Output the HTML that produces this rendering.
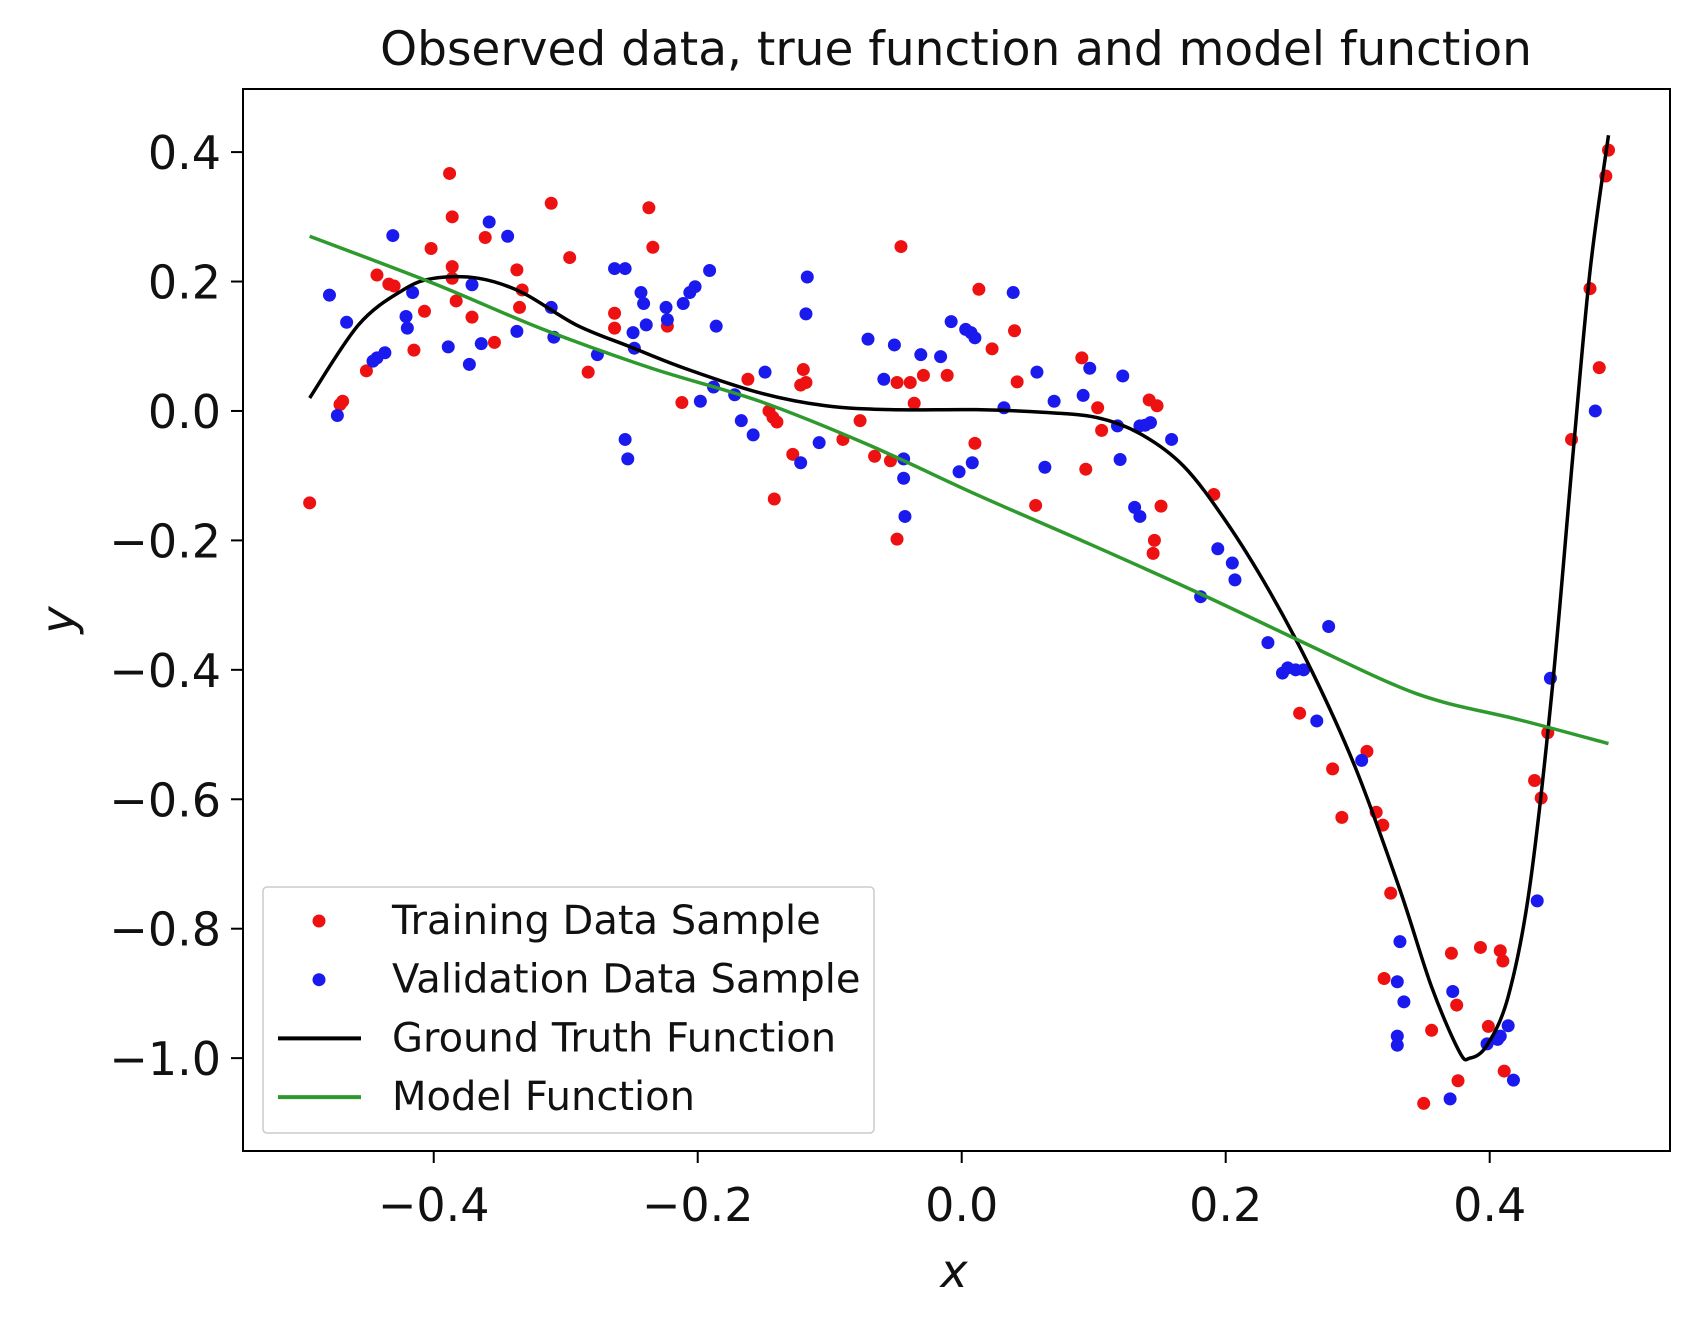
<!DOCTYPE html>
<html><head><meta charset="utf-8"><style>
body{margin:0;background:#fff;}
svg{display:block;font-family:"DejaVu Sans","Liberation Sans",sans-serif;}
</style></head><body>
<svg id="chart" width="1700" height="1328" viewBox="0 0 1700 1328">
<text x="956" y="65" text-anchor="middle" font-size="47" fill="#111">Observed data, true function and model function</text>
<g id="plot"></g>
<text x="954" y="1287" text-anchor="middle" font-size="46" font-style="italic" fill="#111">x</text>
<text transform="translate(74,620) rotate(-90)" text-anchor="middle" font-size="46" font-style="italic" fill="#111">y</text>
</svg>
<script>
const trainX=[-0.494,-0.469,-0.471,-0.451,-0.443,-0.434,-0.43,-0.415,-0.407,-0.402,-0.388,-0.386,-0.386,-0.386,-0.383,-0.371,-0.361,-0.354,-0.337,-0.335,-0.333,-0.311,-0.297,-0.283,-0.263,-0.263,-0.237,-0.234,-0.223,-0.212,-0.162,-0.146,-0.143,-0.14,-0.142,-0.128,-0.122,-0.12,-0.118,-0.09,-0.077,-0.066,-0.054,-0.049,-0.046,-0.049,-0.039,-0.036,-0.029,-0.011,0.01,0.013,0.023,0.04,0.042,0.056,0.091,0.094,0.103,0.106,0.142,0.148,0.151,0.146,0.145,0.191,0.256,0.281,0.288,0.307,0.314,0.319,0.325,0.32,0.35,0.356,0.371,0.375,0.376,0.393,0.399,0.408,0.41,0.411,0.434,0.439,0.444,0.462,0.476,0.483,0.488,0.49];
const trainY=[-0.142,0.015,0.01,0.062,0.21,0.196,0.193,0.094,0.154,0.251,0.367,0.3,0.223,0.205,0.17,0.145,0.268,0.106,0.218,0.16,0.187,0.321,0.237,0.06,0.151,0.128,0.314,0.253,0.131,0.013,0.049,0,-0.01,-0.017,-0.136,-0.067,0.04,0.064,0.044,-0.044,-0.015,-0.07,-0.077,-0.198,0.254,0.044,0.044,0.012,0.055,0.055,-0.05,0.188,0.096,0.124,0.045,-0.146,0.082,-0.09,0.005,-0.03,0.017,0.008,-0.147,-0.2,-0.22,-0.129,-0.467,-0.553,-0.628,-0.526,-0.62,-0.64,-0.745,-0.877,-1.07,-0.957,-0.838,-0.918,-1.035,-0.829,-0.951,-0.834,-0.85,-1.02,-0.571,-0.598,-0.497,-0.044,0.189,0.067,0.363,0.403];
const valX=[-0.479,-0.473,-0.466,-0.446,-0.443,-0.437,-0.431,-0.421,-0.42,-0.416,-0.389,-0.373,-0.371,-0.364,-0.358,-0.344,-0.337,-0.309,-0.311,-0.276,-0.263,-0.255,-0.255,-0.253,-0.249,-0.248,-0.243,-0.241,-0.239,-0.224,-0.223,-0.211,-0.206,-0.202,-0.191,-0.186,-0.198,-0.188,-0.172,-0.167,-0.158,-0.149,-0.122,-0.118,-0.117,-0.108,-0.071,-0.059,-0.051,-0.044,-0.044,-0.043,-0.031,-0.016,-0.008,-0.002,0.008,0.003,0.007,0.01,0.032,0.039,0.057,0.063,0.07,0.092,0.097,0.118,0.12,0.122,0.131,0.135,0.135,0.139,0.143,0.159,0.181,0.194,0.205,0.207,0.232,0.243,0.247,0.253,0.259,0.269,0.278,0.303,0.332,0.33,0.335,0.33,0.33,0.37,0.372,0.398,0.406,0.408,0.414,0.418,0.436,0.446,0.48];
const valY=[0.179,-0.007,0.137,0.077,0.082,0.09,0.271,0.146,0.128,0.183,0.099,0.072,0.195,0.104,0.292,0.27,0.123,0.114,0.16,0.087,0.22,0.22,-0.044,-0.074,0.121,0.097,0.183,0.166,0.133,0.16,0.141,0.166,0.183,0.192,0.217,0.131,0.015,0.037,0.025,-0.015,-0.037,0.06,-0.08,0.15,0.207,-0.049,0.111,0.049,0.102,-0.104,-0.074,-0.163,0.087,0.084,0.138,-0.094,-0.08,0.126,0.121,0.113,0.005,0.183,0.06,-0.087,0.015,0.024,0.066,-0.023,-0.075,0.054,-0.149,-0.163,-0.023,-0.022,-0.018,-0.044,-0.287,-0.213,-0.235,-0.261,-0.358,-0.405,-0.397,-0.4,-0.4,-0.479,-0.333,-0.54,-0.82,-0.882,-0.913,-0.966,-0.98,-1.063,-0.897,-0.978,-0.971,-0.966,-0.95,-1.034,-0.757,-0.413,0];
const truthX=[-0.494,-0.457,-0.424,-0.4,-0.366,-0.333,-0.292,-0.251,-0.21,-0.153,-0.103,-0.054,0.011,0.061,0.102,0.135,0.168,0.2,0.233,0.266,0.299,0.332,0.356,0.377,0.385,0.398,0.414,0.43,0.447,0.463,0.476,0.49];
const truthY=[0.02,0.133,0.186,0.205,0.205,0.183,0.133,0.099,0.066,0.028,0.008,0.002,0.002,-0.002,-0.01,-0.035,-0.085,-0.17,-0.278,-0.405,-0.555,-0.74,-0.89,-0.99,-1.0,-0.98,-0.905,-0.74,-0.437,-0.069,0.216,0.426];
const modelX=[-0.494,-0.4,-0.317,-0.235,-0.153,-0.071,0.011,0.094,0.176,0.258,0.324,0.365,0.422,0.49];
const modelY=[0.27,0.197,0.126,0.066,0.015,-0.052,-0.129,-0.203,-0.278,-0.357,-0.42,-0.45,-0.477,-0.514];
const xTicks=[-0.4,-0.2,0.0,0.2,0.4];
const yTicks=[0.4,0.2,0.0,-0.2,-0.4,-0.6,-0.8,-1.0];

const L=243,R=1670,T=89,B=1151;
const xMin=-0.5445,xMax=0.5366,yMin=-1.1435,yMax=0.4975;
const sx=v=>L+(v-xMin)/(xMax-xMin)*(R-L);
const sy=v=>B-(v-yMin)/(yMax-yMin)*(B-T);
const NS='http://www.w3.org/2000/svg';
const g=document.getElementById('plot');
function mk(t,a){const e=document.createElementNS(NS,t);for(const k in a)e.setAttribute(k,a[k]);return e;}
const fmt=v=>(v<0?'\u2212':'')+Math.abs(v).toFixed(1);

xTicks.forEach(v=>{
  const tk=mk('line',{x1:sx(v),x2:sx(v),y1:B,y2:B+12,stroke:'#000','stroke-width':2});
  
  
  g.appendChild(tk);
  const t=mk('text',{x:sx(v),y:B+70,'text-anchor':'middle','font-size':46,fill:'#111'});
  t.textContent=fmt(v);
  
  
  g.appendChild(t);
});
yTicks.forEach(v=>{
  const tk=mk('line',{x1:L-12,x2:L,y1:sy(v),y2:sy(v),stroke:'#000','stroke-width':2});
  
  
  g.appendChild(tk);
  const t=mk('text',{x:L-22,y:sy(v)+17,'text-anchor':'end','font-size':46,fill:'#111'});
  t.textContent=fmt(v);
  
  
  g.appendChild(t);
});

function dots(xs,ys,c,name){
  xs.forEach((x,i)=>{
    const d=mk('circle',{cx:sx(x),cy:sy(ys[i]),r:6.5,fill:c});
    
    
    g.appendChild(d);
  });
}
function smoothPath(xs,ys){
  const P=xs.map((x,i)=>[sx(x),sy(ys[i])]);
  let d='M'+P[0][0]+','+P[0][1];
  for(let i=0;i<P.length-1;i++){
    const p0=P[i-1]||P[i],p1=P[i],p2=P[i+1],p3=P[i+2]||P[i+1];
    const c1=[p1[0]+(p2[0]-p0[0])/6,p1[1]+(p2[1]-p0[1])/6];
    const c2=[p2[0]-(p3[0]-p1[0])/6,p2[1]-(p3[1]-p1[1])/6];
    d+=' C'+c1+' '+c2+' '+p2;
  }
  return d;
}
function line(xs,ys,c,w,name){
  const p=mk('path',{d:smoothPath(xs,ys),fill:'none',stroke:c,'stroke-width':w,'stroke-linejoin':'round'});
  
  
  g.appendChild(p);
}
dots(trainX,trainY,'#ee1111','training-point');
dots(valX,valY,'#1a1aee','validation-point');
line(truthX,truthY,'#000',3.5,'ground-truth-line');
line(modelX,modelY,'#2e9a2e',3.5,'model-line');

const frame=mk('rect',{x:L,y:T,width:R-L,height:B-T,fill:'none',stroke:'#000','stroke-width':2});


g.appendChild(frame);

const lg=mk('g',{});


g.appendChild(lg);
lg.appendChild(mk('rect',{x:263,y:887,width:611,height:246,fill:'#fff',stroke:'#ccc','stroke-width':1.5,rx:4}));
const entries=[['Training Data Sample','dot','#ee1111'],['Validation Data Sample','dot','#1a1aee'],['Ground Truth Function','line','#000'],['Model Function','line','#2e9a2e']];
entries.forEach((e,i)=>{
  const y=915+i*58.7;
  const it=mk('g',{});
  
  
  if(e[1]=='dot') it.appendChild(mk('circle',{cx:319,cy:y+6,r:6.5,fill:e[2]}));
  else it.appendChild(mk('line',{x1:278,x2:361,y1:y+6,y2:y+6,stroke:e[2],'stroke-width':4}));
  const t=mk('text',{x:392,y:y+19,'font-size':40,fill:'#111'});
  t.textContent=e[0];
  it.appendChild(t);
  lg.appendChild(it);
});
</script>
</body></html>
